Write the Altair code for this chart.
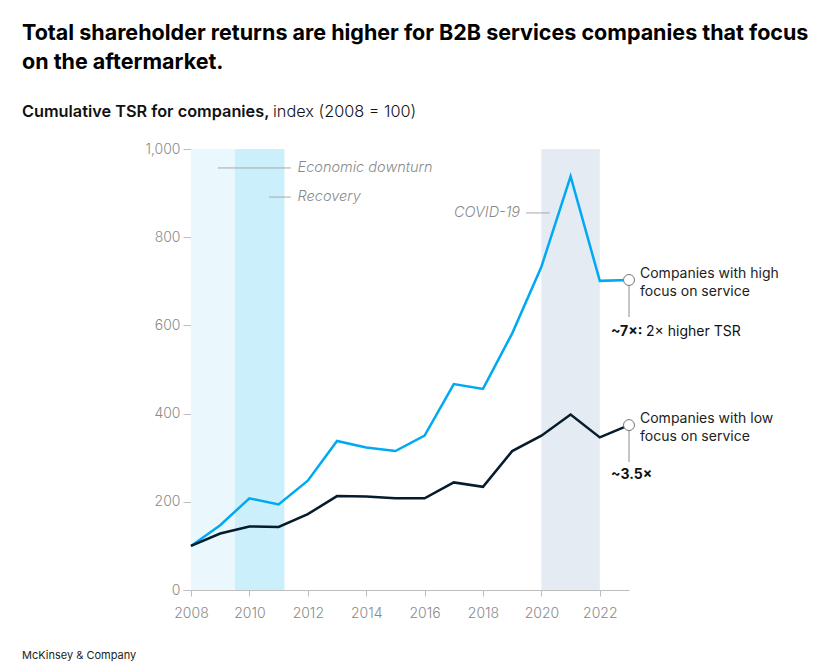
import altair as alt
import pandas as pd

years = list(range(2008, 2024))
high_focus = [100, 147, 208, 194, 248, 338, 323, 315, 350, 467, 456, 582, 733, 938, 701, 703]
low_focus = [100, 128, 144, 143, 172, 213, 212, 208, 208, 244, 234, 315, 350, 398, 346, 374]

band_start = [2008, 2009.5, 2020]
band_end = [2009.5, 2011.2, 2022]
band_color = ["#EAF8FE", "#CCEFFC", "#E5EBF3"]

title_lines = ["Total shareholder returns are higher for B2B services companies that focus",
               "on the aftermarket."]
subtitle_bold = "Cumulative TSR for companies,"
subtitle_normal = "index (2008 = 100)"
source = "McKinsey & Company"

FONT = "Inter"
HIGH = "#00A9F4"
LOW = "#051C2C"
GRAY = "#8A8A8A"

df = pd.DataFrame({
    "year": years * 2,
    "value": high_focus + low_focus,
    "series": ["high"] * len(years) + ["low"] * len(years),
})

bands = pd.DataFrame({"x": band_start, "x2": band_end, "c": band_color})

xs = alt.Scale(domain=[2008, 2023], nice=False, zero=False)
ys = alt.Scale(domain=[0, 1000], nice=False)

band_layer = alt.Chart(bands).mark_rect().encode(
    x=alt.X("x:Q", scale=xs,
            axis=alt.Axis(values=years, labelExpr="datum.value % 2 == 0 ? datum.value : ''",
                          title=None, grid=False, tickSize=6, labelPadding=10,
                          domainColor="#BDBDBD", tickColor="#BDBDBD",
                          labelColor=GRAY, labelFontSize=14, labelFont=FONT, labelFontWeight=300,
                          labelFlush=False)),
    x2="x2:Q",
    color=alt.Color("c:N", scale=None),
)

lines = alt.Chart(df).mark_line(strokeWidth=2.5).encode(
    x=alt.X("year:Q", scale=xs),
    y=alt.Y("value:Q", scale=ys,
            axis=alt.Axis(values=[0, 200, 400, 600, 800, 1000], title=None, grid=False,
                          tickSize=8, labelPadding=3, domainColor="#BDBDBD", tickColor="#BDBDBD",
                          labelColor=GRAY, labelFontSize=14, labelFont=FONT, labelFontWeight=300,
                          format=",d")),
    color=alt.Color("series:N", scale=alt.Scale(domain=["high", "low"], range=[HIGH, LOW]), legend=None),
)

end_df = pd.DataFrame({
    "year": [years[-1], years[-1]],
    "value": [high_focus[-1], low_focus[-1]],
    "lineend": [619, 290],
    "label": [["Companies with high", "focus on service"], ["Companies with low", "focus on service"]],
    "mult": ["~7×:", "~3.5×"],
    "multv": [585, 261],
    "extra": ["2× higher TSR", ""],
})

leaders = alt.Chart(end_df).mark_rule(color="#8C8C8C", strokeWidth=1).encode(
    x=alt.X("year:Q", scale=xs), y=alt.Y("value:Q", scale=ys), y2="lineend:Q")

circles = alt.Chart(end_df).mark_point(shape="circle", size=120, filled=True, fill="white",
                                       stroke="#777777", strokeWidth=1, opacity=1).encode(
    x=alt.X("year:Q", scale=xs), y=alt.Y("value:Q", scale=ys))

end_labels = alt.Chart(end_df).mark_text(align="left", baseline="middle", dx=11, dy=-6,
                                         font=FONT, fontSize=14, color="#222222",
                                         lineHeight=18).encode(
    x=alt.X("year:Q", scale=xs), y=alt.Y("value:Q", scale=ys), text="label")

mult_labels = alt.Chart(end_df).mark_text(align="left", baseline="middle", dx=-18,
                                          font=FONT, fontSize=14, fontWeight="bold",
                                          color="#111111").encode(
    x=alt.X("year:Q", scale=xs), y=alt.Y("multv:Q", scale=ys), text="mult:N")

extra_labels = alt.Chart(end_df).mark_text(align="left", baseline="middle", dx=17,
                                           font=FONT, fontSize=14, color="#111111").encode(
    x=alt.X("year:Q", scale=xs), y=alt.Y("multv:Q", scale=ys), text="extra:N")

ann = pd.DataFrame({
    "x1": [2008.92, 2010.67, 2019.47],
    "x2": [2011.42, 2011.42, 2020.29],
    "y": [957, 891, 855],
    "tx": [2011.65, 2011.65, 2019.27],
    "text": ["Economic downturn", "Recovery", "COVID-19"],
    "align": ["left", "left", "right"],
})

ann_rules = alt.Chart(ann).mark_rule(color="#A8A8A8", strokeWidth=1).encode(
    x=alt.X("x1:Q", scale=xs), x2="x2:Q", y=alt.Y("y:Q", scale=ys))

ann_left = alt.Chart(ann[ann["align"] == "left"]).mark_text(
    align="left", baseline="middle", font=FONT, fontSize=14.5, fontStyle="italic",
    fontWeight=300, color=GRAY).encode(
    x=alt.X("tx:Q", scale=xs), y=alt.Y("y:Q", scale=ys), text="text:N")

ann_right = alt.Chart(ann[ann["align"] == "right"]).mark_text(
    align="right", baseline="middle", font=FONT, fontSize=14.5, fontStyle="italic",
    fontWeight=300, color=GRAY).encode(
    x=alt.X("tx:Q", scale=xs), y=alt.Y("y:Q", scale=ys), text="text:N")

sub_bold = alt.Chart(pd.DataFrame({"t": [subtitle_bold]})).mark_text(
    align="left", baseline="middle", font=FONT, fontSize=16.3, fontWeight=600, color="#111111").encode(
    x=alt.value(-169), y=alt.value(-37), text="t:N")

sub_norm = alt.Chart(pd.DataFrame({"t": [subtitle_normal]})).mark_text(
    align="left", baseline="middle", font=FONT, fontSize=16.3, fontWeight=300, color="#111111").encode(
    x=alt.value(82), y=alt.value(-37), text="t:N")

footer = alt.Chart(pd.DataFrame({"t": [source]})).mark_text(
    align="left", baseline="middle", font=FONT, fontSize=11, color="#222222").encode(
    x=alt.value(-169), y=alt.value(507), text="t:N")

chart = alt.layer(
    band_layer, ann_rules, lines, leaders, circles, end_labels, mult_labels, extra_labels,
    ann_left, ann_right, sub_bold, sub_norm, footer,
).properties(
    width=438, height=441,
    background="white",
    title=alt.TitleParams(text=title_lines, anchor="start", frame="group", dx=-169, offset=31,
                          font=FONT, fontSize=21.5, fontWeight="bold", lineHeight=28.5, color="#000000"),
    autosize=alt.AutoSizeParams(type="none"),
    padding={"left": 183, "top": 141, "right": 185, "bottom": 72},
).configure_view(stroke=None)

chart.save("out.html", embed_options={"renderer": "svg", "actions": False})
